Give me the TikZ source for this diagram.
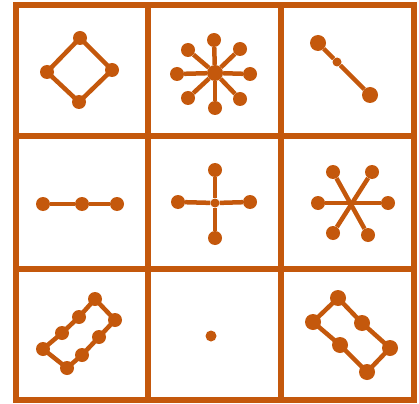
\documentclass[tikz,border=0pt]{standalone}
\usepackage{tikz}
\usetikzlibrary{arrows.meta,positioning,calc}
\definecolor{rust}{RGB}{196,88,12}

\begin{document}
\begin{tikzpicture}[
    x=1pt, y=-1pt,
    grid/.style={draw=rust, line width=6pt},
    edge/.style={draw=rust, line width=4.5pt, line join=round},
    dot/.style={circle, fill=rust, inner sep=0pt, minimum size=14pt},
    bigdot/.style={dot, minimum size=16pt},
    smalldot/.style={dot, minimum size=9pt}
  ]
    \useasboundingbox (0,0) rectangle (419,403);

    % ── Grid ──
    \draw[grid] (16,5) rectangle (414,400);
    \foreach \x in {148,281} \draw[grid] (\x,5) -- (\x,400);
    \foreach \y in {136,269} \draw[grid] (16,\y) -- (414,\y);

    % ── Row 1 ──
    \node[dot] (dtop) at (80,38) {};
    \node[dot] (dright) at (112,70) {};
    \node[dot] (dbot) at (79,102) {};
    \node[dot] (dleft) at (47,72) {};
    \draw[edge] (dtop.center) -- (dright.center) -- (dbot.center) -- (dleft.center) -- cycle;

    \node[bigdot] (sc) at (215,73) {};
    \foreach \n/\px/\py in {s1/214/40, s2/240/49, s3/250/74, s4/240/99,
                            s5/215/108, s6/188/98, s7/177/74, s8/188/50} {
      \node[dot] (\n) at (\px,\py) {};
      \draw[edge] (sc) -- (\n);
    }

    \node[bigdot] (bara) at (318,43) {};
    \node[smalldot] (barm) at (337,62) {};
    \node[bigdot] (barb) at (370,95) {};
    \draw[edge] (bara) -- (barm) -- (barb);

    % ── Row 2 ──
    \node[dot] (ha) at (43,204) {};
    \node[dot] (hm) at (82,204) {};
    \node[dot] (hb) at (117,204) {};
    \draw[edge] (ha) -- (hm) -- (hb);

    \node[smalldot] (cc) at (215,203) {};
    \foreach \n/\px/\py in {ct/215/170, cr/250/202, cb/215/238, cl/178/202} {
      \node[dot] (\n) at (\px,\py) {};
      \draw[edge] (cc) -- (\n);
    }

    \foreach \n/\px/\py in {x1/333/172, x2/372/172, x3/388/203,
                            x4/368/235, x5/333/233, x6/318/203} {
      \node[dot] (\n) at (\px,\py) {};
    }
    \draw[edge] (x1) -- (x4);
    \draw[edge] (x2) -- (x5);
    \draw[edge] (x3) -- (x6);

    % ── Row 3 ──
    \foreach \n/\px/\py in {p1/95/299, p2/115/320, p3/99/337, p4/82/355,
                            p5/67/368, p6/43/349, p7/62/333, p8/79/317} {
      \node[dot] (\n) at (\px,\py) {};
    }
    \draw[edge] (p1.center) -- (p2.center) -- (p3.center) -- (p4.center)
      -- (p5.center) -- (p6.center) -- (p7.center) -- (p8.center) -- cycle;

    \node[smalldot, minimum size=11pt] (single) at (211,336) {};

    \foreach \n/\px/\py in {q1/338/298, q2/362/323, q3/390/348,
                            q4/367/372, q5/340/345, q6/313/322} {
      \node[bigdot] (\n) at (\px,\py) {};
    }
    \draw[edge] (q1.center) -- (q2.center) -- (q3.center) -- (q4.center)
      -- (q5.center) -- (q6.center) -- cycle;

  \end{tikzpicture}
\end{document}
